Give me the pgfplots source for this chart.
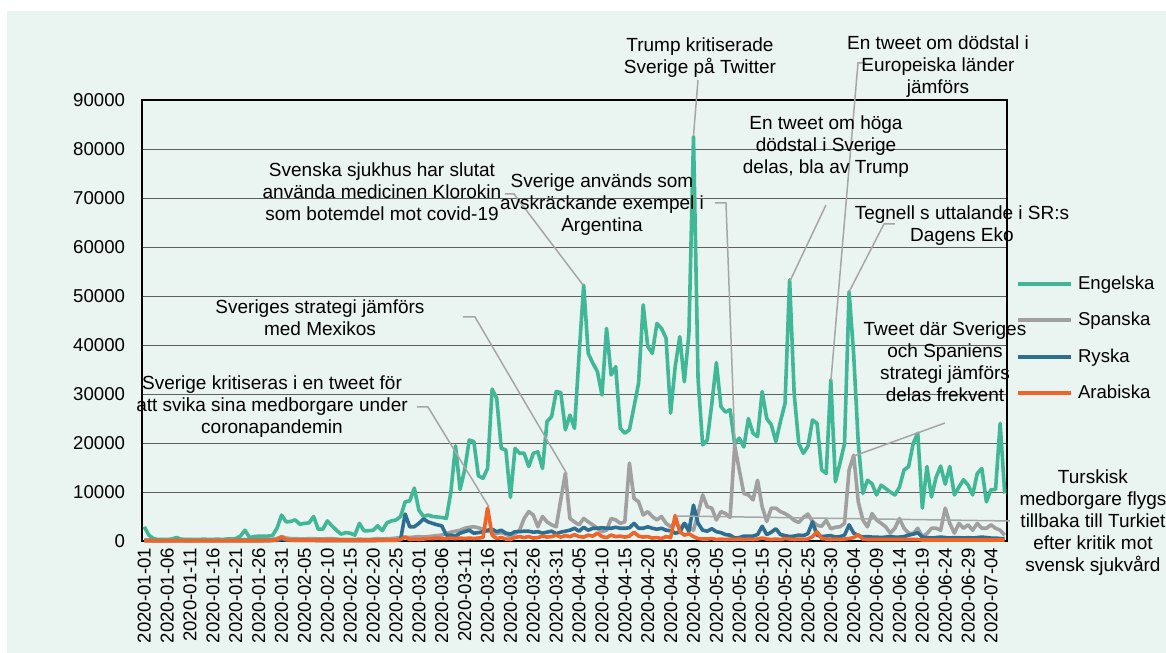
\documentclass[border=0pt]{standalone}
\usepackage{pgfplots}
\pgfplotsset{compat=1.18}
\usepackage{pgfplotstable}
\usepackage{fontspec}
\setmainfont{Liberation Sans}

\definecolor{bg}{RGB}{234,244,240}
\definecolor{eng}{RGB}{64,184,150}
\definecolor{spa}{RGB}{160,160,160}
\definecolor{rys}{RGB}{46,110,145}
\definecolor{ara}{RGB}{240,100,40}
\definecolor{lead}{RGB}{166,166,166}
\definecolor{gridc}{RGB}{95,95,95}

\pgfplotstableread{
d E S R A
0 2900 200 100 50
1 1200 150 100 50
2 500 100 80 50
3 300 100 80 50
4 300 100 80 50
5 300 150 80 50
6 400 150 80 50
7 700 200 100 50
8 400 150 80 50
9 300 100 80 50
10 300 100 80 50
11 300 150 80 50
12 300 150 80 50
13 400 200 80 50
14 300 150 80 50
15 300 150 80 50
16 400 200 80 50
17 300 150 80 50
18 400 150 80 50
19 400 200 80 50
20 500 200 100 50
21 1000 250 100 50
22 2200 300 100 60
23 700 200 100 50
24 900 250 100 50
25 1000 300 100 60
26 1000 300 100 60
27 1000 300 100 80
28 1100 350 120 100
29 2600 500 150 300
30 5300 900 300 800
31 3900 600 200 300
32 4000 500 150 200
33 4300 500 150 150
34 3400 400 120 150
35 3600 400 120 150
36 3700 500 120 150
37 5000 500 120 150
38 2400 400 100 150
39 2400 400 100 150
40 4100 500 100 150
41 3100 500 100 150
42 2200 400 100 150
43 1400 300 100 150
44 1700 300 100 150
45 1600 300 100 150
46 1200 300 100 150
47 3600 400 100 150
48 2100 300 100 150
49 2100 300 100 150
50 2200 400 100 150
51 3100 500 120 150
52 2100 400 120 150
53 3700 500 120 200
54 4100 500 120 200
55 4300 600 150 200
56 5000 700 300 300
57 8000 800 5500 800
58 8200 700 2900 300
59 10800 800 2900 400
60 6300 900 3600 300
61 5000 800 4500 400
62 5300 900 3900 500
63 5000 1000 3600 500
64 4900 1100 3300 600
65 4800 1200 3100 500
66 4600 1500 1200 500
67 10100 1800 1200 600
68 19400 2000 1000 500
69 10500 2200 1600 600
70 14500 2600 1900 500
71 20600 2800 2200 600
72 20300 2900 1600 500
73 13300 2700 1700 600
74 12800 2400 1900 700
75 14800 2000 2200 6700
76 31000 1800 2400 1200
77 29100 1500 1900 500
78 18900 1700 2200 700
79 18600 1400 1600 400
80 8900 900 1400 300
81 18900 1500 1900 700
82 17900 2200 1900 900
83 17900 4600 2000 700
84 15200 6000 2000 900
85 17900 5300 1800 600
86 18200 2900 1900 700
87 14800 5000 1600 1000
88 24400 3900 1800 800
89 25400 3300 2000 900
90 30500 2900 1500 1200
91 30300 8400 1800 800
92 22700 13800 2000 1100
93 25700 4600 2200 900
94 23000 3900 2600 1300
95 38000 3300 2000 900
96 52200 4600 2800 800
97 38300 3900 2200 1200
98 36300 3300 2600 1000
99 34600 2600 2600 1600
100 29800 1900 2700 900
101 43400 2200 2600 700
102 33900 4600 2600 1200
103 35600 4300 2800 900
104 23000 3600 2600 1000
105 22000 3900 2600 800
106 22700 15900 2700 1000
107 27400 8700 3600 1800
108 32200 8000 2600 1000
109 48200 5300 2600 800
110 39700 6000 2900 900
111 38300 5000 2600 600
112 44400 4300 2400 700
113 43400 5000 2600 500
114 41400 3600 2200 900
115 26100 2900 2100 700
116 35600 3900 1600 5200
117 41700 2600 1800 1900
118 32500 3600 3600 1200
119 42400 2900 2000 1500
120 82500 2200 7300 900
121 33000 5600 3600 500
122 19600 9400 2200 400
123 20600 7000 2000 400
124 28000 6700 2500 500
125 36400 4300 1900 300
126 27400 6000 1700 400
127 26300 5600 1300 300
128 26800 4800 1200 400
129 19800 19500 600 300
130 21000 14500 700 400
131 19200 9700 1000 300
132 25000 9400 1000 400
133 22000 8400 1000 300
134 21300 12400 1300 400
135 30500 7000 3000 600
136 25000 4000 1300 400
137 23700 6700 1800 300
138 20300 6700 2500 400
139 24400 6000 1300 300
140 28100 5600 1100 500
141 53300 5000 900 400
142 30000 4200 1000 300
143 19900 3800 1200 400
144 17900 4800 1100 300
145 19300 5500 1500 400
146 24700 4000 3900 900
147 24000 3200 1200 1900
148 14500 3000 900 500
149 13800 4200 1000 400
150 32900 2500 1100 300
151 12100 2800 800 400
152 15900 2900 900 300
153 19900 3600 1200 400
154 50900 14500 3300 500
155 38000 17500 1600 700
156 20000 8000 1100 1300
157 9700 4300 800 400
158 12400 2900 900 300
159 11700 5600 800 300
160 9400 4300 800 300
161 11400 3600 700 300
162 10700 2900 800 300
163 10000 1600 900 300
164 9400 2600 800 300
165 11000 4600 800 300
166 14500 2600 900 300
167 15200 1600 1200 300
168 19900 1500 1400 300
169 22000 2600 1700 300
170 6700 900 800 200
171 15200 1500 700 200
172 9000 2600 600 200
173 13000 2600 700 200
174 15300 2200 800 200
175 11600 6700 700 200
176 15200 3600 600 200
177 9400 1600 700 200
178 11000 3600 700 200
179 12500 2600 600 200
180 11400 3300 700 200
181 9400 2200 600 200
182 13800 3600 700 200
183 14800 2600 800 200
184 8000 2600 700 200
185 10500 3300 600 200
186 10500 2600 600 200
187 24000 2200 500 200
188 9700 1200 500 200
}\data

\newcommand{\tickfont}{\fontsize{9.3bp}{11bp}\selectfont}
\newcommand{\annfont}{\fontsize{9.5bp}{11bp}\selectfont}

\begin{document}
\begin{tikzpicture}
\useasboundingbox (0,0) rectangle (583bp,326.5bp);
\fill[bg] (3.5bp,0bp) rectangle (583bp,321bp);
\begin{axis}[
  at={(71bp,56bp)}, anchor=south west,
  scale only axis, width=432.5bp, height=220.5bp,
  xmin=-0.5, xmax=188.5, ymin=0, ymax=90000,
  scaled y ticks=false,
  xtick={0,5,...,185},
  xticklabels={2020-01-01,2020-01-06,2020-01-11,2020-01-16,2020-01-21,2020-01-26,2020-01-31,2020-02-05,2020-02-10,2020-02-15,2020-02-20,2020-02-25,2020-03-01,2020-03-06,2020-03-11,2020-03-16,2020-03-21,2020-03-26,2020-03-31,2020-04-05,2020-04-10,2020-04-15,2020-04-20,2020-04-25,2020-04-30,2020-05-05,2020-05-10,2020-05-15,2020-05-20,2020-05-25,2020-05-30,2020-06-04,2020-06-09,2020-06-14,2020-06-19,2020-06-24,2020-06-29,2020-07-04},
  ytick={0,10000,20000,30000,40000,50000,60000,70000,80000,90000},
  yticklabels={0,10000,20000,30000,40000,50000,60000,70000,80000,90000},
  major tick length=0pt,
  ymajorgrids, grid style={line width=0.5bp, gridc},
  axis line style={line width=0.6bp, black},
  x tick label style={rotate=90, anchor=east, font=\tickfont},
  y tick label style={font=\tickfont, xshift=-5bp},
  clip=false,
  every axis plot/.append style={line width=1.8bp, mark=none, line join=round},
  legend style={at={(rel axis cs:1.010,0.614)}, anchor=north west, draw=none, fill=none,
    inner sep=0pt, row sep=5bp, font=\tickfont, nodes={inner sep=2.5bp}},
  legend cell align=left,
  legend image code/.code={\draw[#1,line width=2bp] (0bp,0bp) -- (26.5bp,0bp);},
]
\addplot[eng] table[x=d,y=E]{\data};
\addlegendentry{Engelska}
\addplot[spa] table[x=d,y=S]{\data};
\addlegendentry{Spanska}
\addplot[rys] table[x=d,y=R]{\data};
\addlegendentry{Ryska}
\addplot[ara] table[x=d,y=A]{\data};
\addlegendentry{Arabiska}
\end{axis}
\begin{scope}[x=0.5bp,y=-0.5bp,shift={(0bp,326.5bp)}]
\draw[lead,line width=0.75bp] (698,80) -- (693.5,136);
\draw[lead,line width=0.75bp] (866,63) -- (858,63) -- (831,380);
\draw[lead,line width=0.75bp] (826,205) -- (790,281);
\draw[lead,line width=0.75bp] (895,224) -- (884,224) -- (849,292);
\draw[lead,line width=0.75bp] (945,423) -- (854,456);
\draw[lead,line width=0.75bp] (1010,521) -- (676,516);
\draw[lead,line width=0.75bp] (715,203) -- (726,203) -- (735,447);
\draw[lead,line width=0.75bp] (505,194) -- (514,194) -- (583,285);
\draw[lead,line width=0.75bp] (463,317) -- (475,317) -- (567,474);
\draw[lead,line width=0.75bp] (417,407) -- (428,407) -- (489,507);
\node[align=center,font=\annfont] at (700,58) {Trump kritiserade\\Sverige på Twitter};
\node[align=center,font=\annfont] at (938,67) {En tweet om dödstal i\\Europeiska länder\\jämförs};
\node[align=center,font=\annfont] at (826,147) {En tweet om höga\\dödstal i Sverige\\delas, bla av Trump};
\node[align=center,font=\annfont] at (962,226) {Tegnell s uttalande i SR:s\\Dagens Eko};
\node[align=center,font=\annfont] at (945,362) {Tweet där Sveriges\\och Spaniens\\strategi jämförs\\delas frekvent};
\node[align=center,font=\annfont] at (1093,523) {Turskisk\\medborgare flygs\\tillbaka till Turkiet\\efter kritik mot\\svensk sjukvård};
\node[align=center,font=\annfont] at (602,205) {Sverige används som\\avskräckande exempel i\\Argentina};
\node[align=center,font=\annfont] at (382,192) {Svenska sjukhus har slutat\\använda medicinen Klorokin\\som botemdel mot covid-19};
\node[align=center,font=\annfont] at (320,318) {Sveriges strategi jämförs\\med Mexikos};
\node[align=center,font=\annfont] at (272,407) {Sverige kritiseras i en tweet för\\att svika sina medborgare under\\coronapandemin};
\end{scope}
\end{tikzpicture}
\end{document}
